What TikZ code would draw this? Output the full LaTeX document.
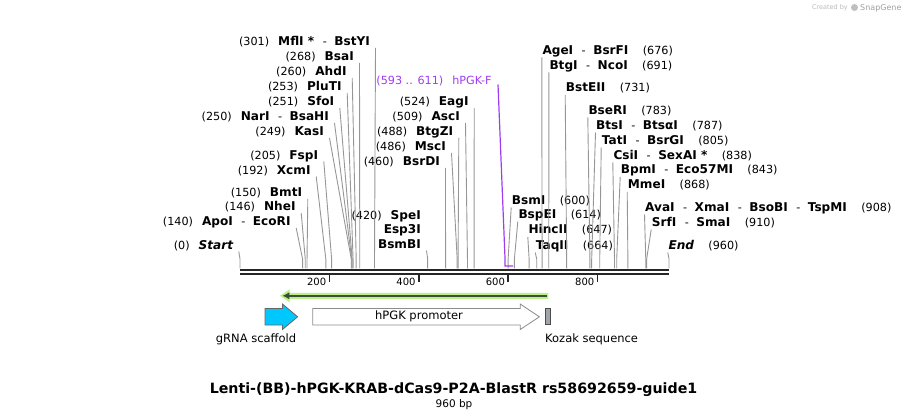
\documentclass[tikz,border=0pt]{standalone}
\usepackage{fontspec}
\setmainfont{DejaVu Sans}
\usetikzlibrary{arrows.meta}
\tikzset{
	>=latex,
}
\definecolor{leadgray}{RGB}{150,150,150}
\definecolor{primerv}{RGB}{160,60,240}
\definecolor{scaffold}{RGB}{0,200,255}
\definecolor{kozak}{RGB}{160,164,171}
\definecolor{glow}{RGB}{184,240,138}
\definecolor{orf}{RGB}{64,76,56}

\begin{document}
\begin{tikzpicture}[x=1pt,y=-1pt,
		lab/.style={inner sep=0pt, font=\fontsize{11.2}{13}\selectfont},
		lft/.style={lab, anchor=base east},
		rgt/.style={lab, anchor=base west},
		leader/.style={draw=leadgray, line width=0.9pt},
		bar/.style={line width=2.4pt, draw=black!85},
		tick/.style={line width=1.6pt, draw=black!85},
		ticklab/.style={inner sep=0pt, anchor=base east, xshift=-3pt, font=\fontsize{10}{12}\selectfont},
		feat/.style={draw=black!60, line width=0.8pt, line join=miter},
		featlab/.style={inner sep=0pt, font=\fontsize{11.5}{13}\selectfont},
	]
	\def\enz#1{{\fontsize{12.1}{13}\selectfont\bfseries #1}}
	\def\hy{\hspace{8.5pt}-\hspace{7.5pt}}
	\def\lp#1{(#1)\hspace{9pt}}
	\def\rp#1{\hspace{14.4pt}(#1)}
	\def\cutL#1#2{\draw[leader] ([shift={(5.5pt,-2pt)}]#1.base east) -- ([yshift=9.5pt]#2) -- (#2);}
	\def\cutR#1#2{\draw[leader] ([shift={(-0.5pt,-3pt)}]#1.base west) -- ([yshift=9.5pt]#2) -- (#2);}
	\useasboundingbox (0,0) rectangle (909,419);

	% sequence and features, x in bp
	\begin{scope}[xshift=240pt, x=0.446875pt]
		\draw[bar] (0,270.3) -- (960,270.3);
		\draw[bar] (0,274.2) -- (960,274.2);
		\draw[tick] (200,275.5) -- (200,282.5);
		\draw[tick] (400,275.5) -- (400,282.5);
		\draw[tick] (600,275.5) -- (600,282.5);
		\draw[tick] (800,275.5) -- (800,282.5);
		\path
			node(t200)[ticklab] at (200,285.5) {200}
			node(t400)[ticklab] at (400,285.5) {400}
			node(t600)[ticklab] at (600,285.5) {600}
			node(t800)[ticklab] at (800,285.5) {800};
		\coordinate (c0) at (0,268.5);
		\coordinate (c140) at (140,268.5);
		\coordinate (c146) at (146,268.5);
		\coordinate (c150) at (150,268.5);
		\coordinate (c192) at (192,268.5);
		\coordinate (c205) at (205,268.5);
		\coordinate (c249) at (249,268.5);
		\coordinate (c250) at (250,268.5);
		\coordinate (c251) at (251,268.5);
		\coordinate (c253) at (253,268.5);
		\coordinate (c260) at (260,268.5);
		\coordinate (c268) at (268,268.5);
		\coordinate (c301) at (301,268.5);
		\coordinate (c420) at (420,268.5);
		\coordinate (c460) at (460,268.5);
		\coordinate (c486) at (486,268.5);
		\coordinate (c488) at (488,268.5);
		\coordinate (c509) at (509,268.5);
		\coordinate (c524) at (524,268.5);
		\coordinate (c600) at (600,268.5);
		\coordinate (c614) at (614,268.5);
		\coordinate (c647) at (647,268.5);
		\coordinate (c664) at (664,268.5);
		\coordinate (c676) at (676,268.5);
		\coordinate (c691) at (691,268.5);
		\coordinate (c731) at (731,268.5);
		\coordinate (c783) at (783,268.5);
		\coordinate (c787) at (787,268.5);
		\coordinate (c805) at (805,268.5);
		\coordinate (c838) at (838,268.5);
		\coordinate (c843) at (843,268.5);
		\coordinate (c868) at (868,268.5);
		\coordinate (c908) at (908,268.5);
		\coordinate (c910) at (910,268.5);
		\coordinate (c960) at (960,268.5);
		\coordinate (p593) at (593,266);
		\coordinate (p611) at (611,266);

		% translated frame
		\fill[glow] (690,292.8) -- (111,292.8) -- (111,289.3) -- (89.5,295.8)
			-- (111,302.3) -- (111,298.8) -- (690,298.8) -- cycle;
		\draw[orf, line width=2.2pt, -{Latex[length=7pt,width=7.5pt]}] (686,295.8) -- (95,295.8);

		% features
		\draw[feat, fill=scaffold] (56,308.5) -- (95,308.5) -- (95,304) -- (129,316.8)
			-- (95,329.5) -- (95,325) -- (56,325) -- cycle;
		\draw[feat, draw=black!45, fill=white] (163,308.5) -- (627,308.5) -- (627,304) -- (670,316.8)
			-- (627,329.5) -- (627,325) -- (163,325) -- cycle;
		\draw[feat, draw=black!70, fill=kozak] (684,308.5) rectangle (695,324.5);
	\end{scope}

	\path
		node(grna)[featlab, anchor=base] at (256,342) {gRNA scaffold}
		node(prom)[featlab, anchor=base] at (419,319.5) {hPGK promoter}
		node(koz)[featlab, anchor=base west] at (545,342) {Kozak sequence};

	% cut sites, left of their lines
	\path
		node(mfl)[lft] at (370,46) {\lp{301}\enz{MflI *}\hy\enz{BstYI}}
		node(bsa)[lft] at (354,61) {\lp{268}\enz{BsaI}}
		node(ahd)[lft] at (346.7,76) {\lp{260}\enz{AhdI}}
		node(plu)[lft] at (341.7,91) {\lp{253}\enz{PluTI}}
		node(sfo)[lft] at (334.3,106) {\lp{251}\enz{SfoI}}
		node(nar)[lft] at (329,121) {\lp{250}\enz{NarI}\hy\enz{BsaHI}}
		node(kas)[lft] at (324,136) {\lp{249}\enz{KasI}}
		node(fsp)[lft] at (318.3,159.5) {\lp{205}\enz{FspI}}
		node(xcm)[lft] at (310.7,174.5) {\lp{192}\enz{XcmI}}
		node(bmt)[lft] at (302.3,197) {\lp{150}\enz{BmtI}}
		node(nhe)[lft] at (295.7,211) {\lp{146}\enz{NheI}}
		node(apo)[lft] at (290.7,226) {\lp{140}\enz{ApoI}\hy\enz{EcoRI}}
		node(seqstart)[lft] at (233.3,249.5) {\lp{0}\enz{\itshape Start}}
		node(spe)[lft] at (421,219.5) {\lp{420}\enz{SpeI}}
		node(esp)[lft] at (421,234) {\enz{Esp3I}}
		node(bsmb)[lft] at (421,248.5) {\enz{BsmBI}}
		node(bsrd)[lft] at (440,166) {\lp{460}\enz{BsrDI}}
		node(msc)[lft] at (446,151) {\lp{486}\enz{MscI}}
		node(btgz)[lft] at (453.3,136) {\lp{488}\enz{BtgZI}}
		node(asc)[lft] at (460,121) {\lp{509}\enz{AscI}}
		node(eag)[lft] at (468.7,106) {\lp{524}\enz{EagI}}
		node(pgkf)[lft, text=primerv] at (491.7,84.5) {\lp{593 .. 611}hPGK-F};

	% cut sites, right of their lines
	\path
		node(age)[rgt] at (542.3,54.5) {\enz{AgeI}\hy\enz{BsrFI}\rp{676}}
		node(btg)[rgt] at (549.3,69.5) {\enz{BtgI}\hy\enz{NcoI}\rp{691}}
		node(bste)[rgt] at (565.7,92) {\enz{BstEII}\rp{731}}
		node(bser)[rgt] at (588.3,114.5) {\enz{BseRI}\rp{783}}
		node(bts)[rgt] at (596,129.5) {\enz{BtsI}\hy\enz{BtsαI}\rp{787}}
		node(tat)[rgt] at (601.7,144.5) {\enz{TatI}\hy\enz{BsrGI}\rp{805}}
		node(csi)[rgt] at (613.3,159.5) {\enz{CsiI}\hy\enz{SexAI *}\rp{838}}
		node(bpm)[rgt] at (620.7,174) {\enz{BpmI}\hy\enz{Eco57MI}\rp{843}}
		node(mme)[rgt] at (627.7,189) {\enz{MmeI}\rp{868}}
		node(ava)[rgt] at (645,211.5) {\enz{AvaI}\hy\enz{XmaI}\hy\enz{BsoBI}\hy\enz{TspMI}\rp{908}}
		node(srf)[rgt] at (651.7,226.5) {\enz{SrfI}\hy\enz{SmaI}\rp{910}}
		node(seqend)[rgt] at (668.3,249.5) {\enz{\itshape End}\rp{960}}
		node(bsm)[rgt] at (511.7,204.5) {\enz{BsmI}\rp{600}}
		node(bspe)[rgt] at (518.3,218.5) {\enz{BspEI}\rp{614}}
		node(hinc)[rgt] at (528.3,234) {\enz{HincII}\rp{647}}
		node(taq)[rgt] at (535.7,249.5) {\enz{TaqII}\rp{664}};

	\cutL{mfl}{c301} \cutL{bsa}{c268} \cutL{ahd}{c260} \cutL{plu}{c253}
	\cutL{sfo}{c251} \cutL{nar}{c250} \cutL{kas}{c249} \cutL{fsp}{c205}
	\cutL{xcm}{c192} \cutL{bmt}{c150} \cutL{nhe}{c146} \cutL{apo}{c140}
	\cutL{seqstart}{c0} \cutL{bsmb}{c420} \cutL{bsrd}{c460} \cutL{msc}{c486}
	\cutL{btgz}{c488} \cutL{asc}{c509} \cutL{eag}{c524}
	\cutR{age}{c676} \cutR{btg}{c691} \cutR{bste}{c731} \cutR{bser}{c783}
	\cutR{bts}{c787} \cutR{tat}{c805} \cutR{csi}{c838} \cutR{bpm}{c843}
	\cutR{mme}{c868} \cutR{ava}{c908} \cutR{srf}{c910} \cutR{seqend}{c960}
	\cutR{bsm}{c600} \cutR{bspe}{c614} \cutR{hinc}{c647} \cutR{taq}{c664}
	\draw[primerv, line width=1.2pt] ([shift={(6.3pt,0pt)}]pgkf.base east)
		-- ([yshift=8pt]p593) -- (p593) -- (p611);

	% title
	\path
		node(title)[inner sep=0pt, anchor=base, font=\fontsize{14.2}{16}\selectfont\bfseries]
			at (453.5,393) {Lenti-(BB)-hPGK-KRAB-dCas9-P2A-BlastR rs58692659-guide1}
		node(size)[inner sep=0pt, anchor=base, font=\fontsize{10.5}{12}\selectfont]
			at (454,407) {960 bp};

	% watermark
	\path
		node(made)[inner sep=0pt, anchor=base east, text=gray!55, font=\fontsize{6.5}{8}\selectfont]
			at (848,10) {Created by}
		node(sg)[inner sep=0pt, anchor=base west, text=gray!75, font=\fontsize{8}{9}\selectfont]
			at (860,10.5) {SnapGene};
	\fill[gray!50] (854.5,7.5) circle (3.5pt);
\end{tikzpicture}
\end{document}
